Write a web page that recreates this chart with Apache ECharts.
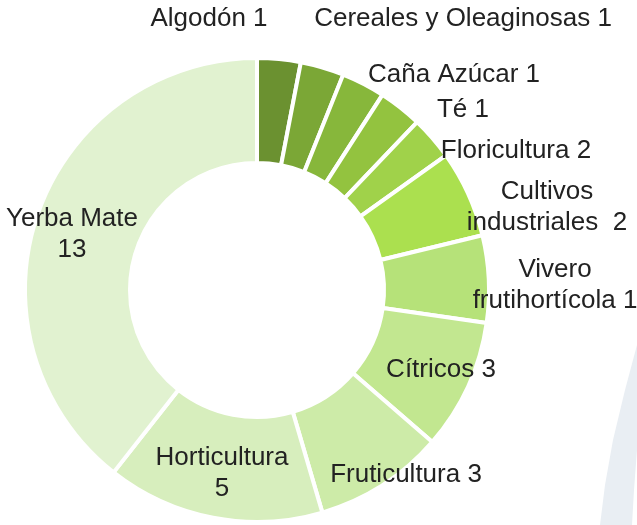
<!DOCTYPE html>
<html>
<head>
<meta charset="utf-8">
<style>
  html, body { margin: 0; padding: 0; background: #fff; }
  #main { width: 637px; height: 525px; }
</style>
<script src="https://cdn.jsdelivr.net/npm/echarts@6/dist/echarts.min.js"></script>
</head>
<body>
<div id="main"></div>
<script>
// categorias y valores (tamano de cada porcion)
var categories = ['Algodón', 'Cereales y Oleaginosas', 'Caña Azúcar', 'Té', 'Floricultura',
  'Cultivos industriales', 'Vivero frutihortícola', 'Cítricos', 'Fruticultura', 'Horticultura', 'Yerba Mate'];
var values = [1, 1, 1, 1, 1, 2, 2, 3, 3, 5, 13];
// texto de las etiquetas tal como aparece
var labelText = ['Algodón 1', 'Cereales y Oleaginosas 1', 'Caña Azúcar 1', 'Té 1', 'Floricultura 2',
  'Cultivos\nindustriales  2', 'Vivero\nfrutihortícola 1', 'Cítricos 3', 'Fruticultura 3', 'Horticultura\n5', 'Yerba Mate\n13'];

var colors = ['#6b9130', '#7ba736', '#87b73b', '#93c33f', '#a0d24a', '#abe04f',
  '#b6e279', '#c2e790', '#cdeba8', '#d7eebd', '#e1f2d0'];
// donde va cada etiqueta (centro)
var labelPos = [[209, 19], [463, 19], [454, 75], [463, 110], [516, 151], [547, 207],
  [555, 285], [441, 370], [406, 475], [222, 473], [72, 234]];

var chart = echarts.init(document.getElementById('main'));

var data = [];
for (var i = 0; i < values.length; i++) {
  data.push({ name: categories[i], value: values[i], itemStyle: { color: colors[i] } });
}

var option = {
  backgroundColor: '#fff',
  animation: false,
  graphic: [{
    type: 'polygon',
    silent: true,
    z: -1,
    shape: {
      points: [[637, 345], [625, 390], [613, 440], [605, 485], [600, 525], [632, 525], [634, 490], [637, 450]]
    },
    style: { fill: '#e9eef3' }
  }],
  series: [{
    type: 'pie',
    center: [257, 290],
    radius: [127, 232],
    startAngle: 90,
    clockwise: true,
    avoidLabelOverlap: false,
    data: data,
    itemStyle: {
      borderColor: '#fff',
      borderWidth: 4
    },
    label: {
      show: true,
      position: 'outside',
      formatter: function (p) {
        return labelText[p.dataIndex];
      },
      color: '#222',
      fontFamily: 'Liberation Sans, Arial, sans-serif',
      fontSize: 26,
      lineHeight: 31,
      align: 'center'
    },
    labelLine: { show: false },
    labelLayout: function (params) {
      var p = labelPos[params.dataIndex];
      return { x: p[0], y: p[1], align: 'center', verticalAlign: 'middle' };
    },
    emphasis: { disabled: true }
  }]
};

chart.setOption(option);
</script>
</body>
</html>
